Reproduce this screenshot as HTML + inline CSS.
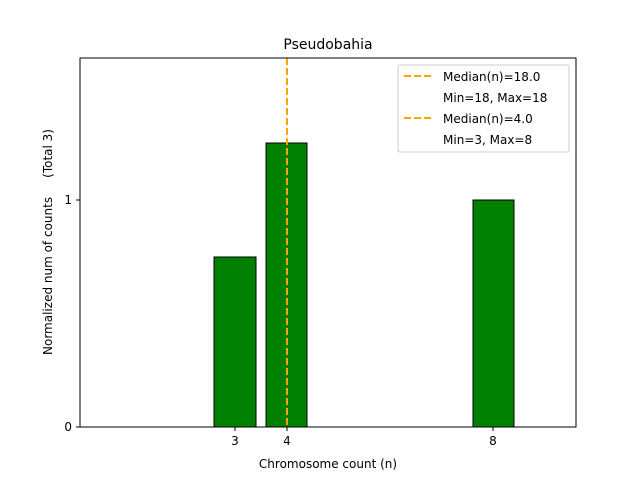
<!DOCTYPE html>
<html><head><style>body{margin:0;background:#fff}</style></head><body>
<svg width="640" height="480" viewBox="0 0 640 480" xmlns="http://www.w3.org/2000/svg" font-family="DejaVu Sans, Liberation Sans, sans-serif">
<rect width="640" height="480" fill="#fff"/>
<rect x="214" y="257" width="42" height="170" fill="#008000" stroke="#000" stroke-width="1"/>
<rect x="266" y="143" width="41" height="284" fill="#008000" stroke="#000" stroke-width="1"/>
<rect x="473" y="200" width="41" height="227" fill="#008000" stroke="#000" stroke-width="1"/>
<line x1="287" y1="58" x2="287" y2="427" stroke="#ffa500" stroke-width="2" stroke-dasharray="7,3"/>
<rect x="80" y="58" width="496" height="369" fill="none" stroke="#000" stroke-width="1"/>
<g stroke="#000"><line x1="76" y1="427" x2="80" y2="427"/><line x1="76" y1="200" x2="80" y2="200"/>
<line x1="235" y1="427" x2="235" y2="431"/><line x1="287" y1="427" x2="287" y2="431"/><line x1="493" y1="427" x2="493" y2="431"/></g>
<g font-size="12" fill="#000">
<text x="72" y="431" text-anchor="end">0</text>
<text x="72" y="204" text-anchor="end">1</text>
<text x="235" y="445" text-anchor="middle">3</text>
<text x="287" y="445" text-anchor="middle">4</text>
<text x="493" y="445" text-anchor="middle">8</text>
<text x="328" y="468" text-anchor="middle">Chromosome count (n)</text>
<text transform="translate(52,242) rotate(-90)" text-anchor="middle" style="white-space:pre" xml:space="preserve">Normalized num of counts     (Total 3)</text>
</g>
<text x="328" y="49" text-anchor="middle" font-size="14">Pseudobahia</text>
<rect x="398" y="65" width="171" height="87" rx="2" fill="#fff" stroke="#ccc"/>
<g stroke="#ffa500" stroke-width="2" stroke-dasharray="7,3"><line x1="404" y1="76" x2="432" y2="76"/><line x1="404" y1="118" x2="432" y2="118"/></g>
<g font-size="12" fill="#000">
<text x="443" y="81">Median(n)=18.0</text>
<text x="443" y="102">Min=18, Max=18</text>
<text x="443" y="123">Median(n)=4.0</text>
<text x="443" y="144">Min=3, Max=8</text>
</g>
</svg>
</body></html>
